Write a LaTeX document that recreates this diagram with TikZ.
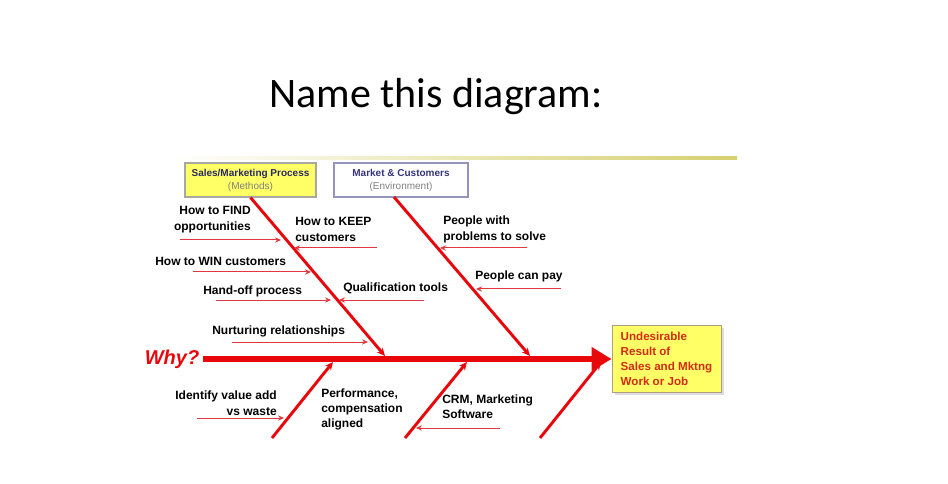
\documentclass[tikz,border=0pt]{standalone}
\usepackage{fontspec}
\setmainfont{Liberation Sans}
\newfontfamily\titlefont{Carlito}
\usetikzlibrary{arrows.meta,positioning,calc,shadows}
\definecolor{BoneRed}{HTML}{E8070B}
\definecolor{CauseRed}{HTML}{E2383C}
\definecolor{EffectRed}{HTML}{D42A16}
\definecolor{BoxYellow}{HTML}{FFFF66}
\definecolor{BoxGrey}{HTML}{A8A8A0}
\definecolor{EnvBlue}{HTML}{9494BC}
\definecolor{HeadNavy}{HTML}{34347C}
\definecolor{RuleOlive}{HTML}{D6D070}

\begin{document}
\begin{tikzpicture}[x=0.75pt,y=-0.75pt]
  \tikzset{
    catbox/.style={draw,line width=0.8pt,minimum height=25.5pt,align=center,inner sep=0pt,font=\fontsize{7.5}{9.7}\selectfont},
    causetext/.style={font=\fontsize{9}{12}\selectfont\bfseries,inner sep=0pt},
    bone/.style={draw=BoneRed,line width=2.2pt,-{Stealth[length=6pt,width=5.5pt]}},
    cause/.style={draw=CauseRed,line width=0.75pt,-{Stealth[length=4.5pt,width=4pt]}},
    spine/.style={draw=BoneRed,line width=4.5pt,-{Triangle[length=15pt,width=17pt]}},
  }
  \useasboundingbox (0,0) rectangle (948,484);
  % title and rule
  \node[font=\titlefont\fontsize{31.5}{36}\selectfont,anchor=base] (title) at (436,108) {Name this diagram:};
  \shade[left color=white,right color=RuleOlive] (170,157) rectangle (737,159.5);
  % category boxes
  \node[catbox,fill=BoxYellow,draw=BoxGrey,minimum width=98.25pt] (proc) at (250.5,180)
    {\textbf{\color{HeadNavy!80!black}Sales/Marketing Process}\\\color{gray}(Methods)};
  \node[catbox,fill=white,draw=EnvBlue,minimum width=100.5pt] (env) at (401,180)
    {\textbf{\color{HeadNavy}Market \& Customers}\\\color{gray}(Environment)};
  % head and tail
  \node[font=\fontsize{15}{18}\selectfont\bfseries\itshape,text=BoneRed,inner sep=3pt] (why) at (172,359) {Why?};
  \node[draw=BoxGrey!70!brown,fill=BoxYellow,line width=0.6pt,text=EffectRed,font=\fontsize{8.7}{11.3}\selectfont\bfseries,
        align=left,minimum width=81.75pt,inner sep=3pt,minimum height=50pt,
        drop shadow={shadow xshift=2pt,shadow yshift=-2pt,fill=gray!55}] (effect) at (666.5,359)
    {Undesirable\\Result of\\Sales and Mktng\\Work or Job};
  \draw[spine] (why.east) -- (effect.west);
  % bone ends
  \coordinate (s1) at (385,356);
  \coordinate (s2) at (530,356);
  \coordinate (s3) at (333,362);
  \coordinate (s4) at (467,362);
  \coordinate (s5) at (601,362);
  \coordinate (envfoot) at (394,197);
  \coordinate (t3) at (272,438);
  \coordinate (t4) at (405,438);
  \coordinate (t5) at (540,438);
  \draw[bone] (proc.south) -- (s1);
  \draw[bone] (envfoot) -- (s2);
  \draw[bone] (t3) -- (s3);
  \draw[bone] (t4) -- (s4);
  \draw[bone] (t5) -- (s5);
  % causes
  \node[causetext,align=right,anchor=east] (find) at (251,220) {How to FIND\\opportunities};
  \node[causetext,align=left,anchor=west] (keep) at (295,229) {How to KEEP\\customers};
  \node[causetext,anchor=west] (win) at (155,261) {How to WIN customers};
  \node[causetext,anchor=west] (handoff) at (203,291) {Hand-off process};
  \node[causetext,anchor=west] (qual) at (343,288) {Qualification tools};
  \node[causetext,anchor=west] (nurture) at (212,331) {Nurturing relationships};
  \node[causetext,align=left,anchor=west] (problems) at (443,229) {People with\\problems to solve};
  \node[causetext,anchor=west] (pay) at (475,276) {People can pay};
  \node[causetext,align=right,anchor=east] (waste) at (277,403) {Identify value add\\vs waste};
  \node[causetext,align=left,anchor=west,font=\fontsize{9}{11.3}\selectfont\bfseries] (perf) at (321,409) {Performance,\\compensation\\aligned};
  \node[causetext,align=left,anchor=west,font=\fontsize{9}{11.3}\selectfont\bfseries] (crm) at (442,407) {CRM, Marketing\\Software};
  \coordinate (a1) at (180,240);  \coordinate (b1) at (281,240);
  \coordinate (a2) at (377,248);  \coordinate (b2) at (294,248);
  \coordinate (a3) at (193,272);  \coordinate (b3) at (311,272);
  \coordinate (a4) at (216,300);  \coordinate (b4) at (331,300);
  \coordinate (a5) at (424,300);  \coordinate (b5) at (339,300);
  \coordinate (a6) at (232,342);  \coordinate (b6) at (368,342);
  \coordinate (a7) at (527,248);  \coordinate (b7) at (440,248);
  \coordinate (a8) at (561,289);  \coordinate (b8) at (476,289);
  \coordinate (a9) at (197,418);  \coordinate (b9) at (284,418);
  \coordinate (a10) at (500,428); \coordinate (b10) at (416,428);
  \foreach \i in {1,...,10}
    \draw[cause] (a\i) -- (b\i);
\end{tikzpicture}
\end{document}
